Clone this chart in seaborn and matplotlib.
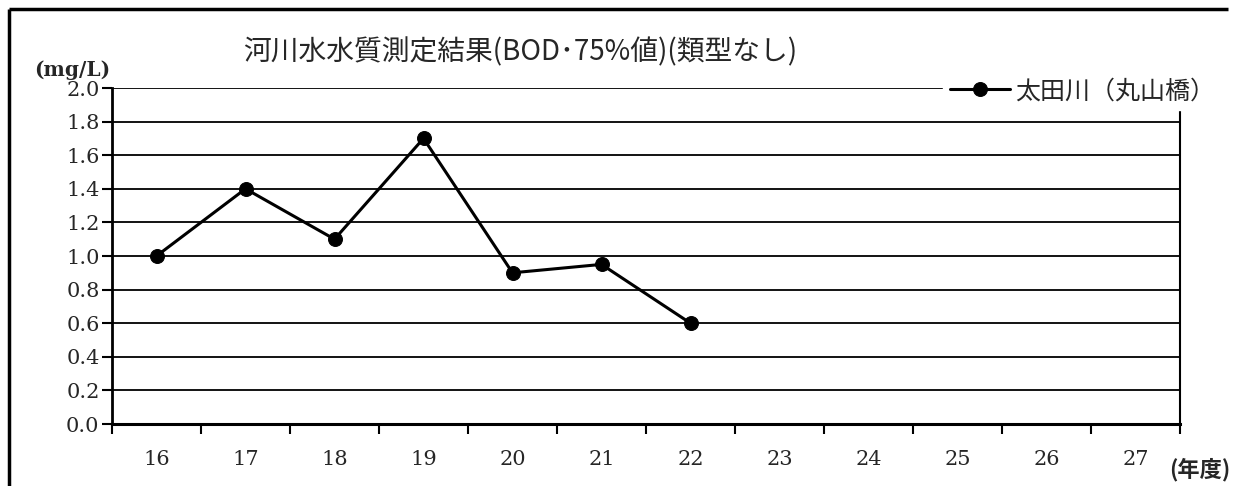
import seaborn as sns
import matplotlib.pyplot as plt
from matplotlib.lines import Line2D
import pandas as pd

sns.set_style("white")
plt.rcParams['font.family'] = ['Noto Sans CJK JP', 'DejaVu Sans']

years = ['16', '17', '18', '19', '20', '21', '22', '23', '24', '25', '26', '27']
bod = [1.0, 1.4, 1.1, 1.7, 0.9, 0.95, 0.6]
series_name = '太田川（丸山橋）'
yticks = [0.0, 0.2, 0.4, 0.6, 0.8, 1.0, 1.2, 1.4, 1.6, 1.8, 2.0]

df = pd.DataFrame({'year': years[:len(bod)], 'bod': bod})
pos = {y: i for i, y in enumerate(years)}
df['x'] = df['year'].map(pos)

fig = plt.figure(figsize=(12.38, 4.86), dpi=100)
ax = fig.add_axes([112/1238, 1 - 424/486, 1068/1238, 336/486])

for v in yticks[1:]:
    ax.axhline(v, color='black', lw=1.3, zorder=1)

sns.lineplot(data=df, x='x', y='bod', ax=ax, color='black', lw=2.2,
             marker='o', markersize=10, markeredgecolor='black',
             label=series_name, zorder=3)

ax.set_xlim(-0.5, len(years) - 0.5)
ax.set_ylim(0, 2.0)
ax.set_xlabel('')
ax.set_ylabel('')

# category labels at centers, ticks at boundaries
ax.set_xticks([i - 0.5 for i in range(len(years) + 1)])
ax.set_xticklabels([])
ax.set_xticks(range(len(years)), minor=True)
ax.set_xticklabels(years, minor=True, family='DejaVu Serif', fontsize=15)
ax.tick_params(axis='x', which='major', direction='out', length=7, width=1.5, color='black')
ax.tick_params(axis='x', which='minor', length=0, pad=19)
ax.set_yticks(yticks)
ax.set_yticklabels([f'{v:.1f}' for v in yticks], family='DejaVu Serif', fontsize=15)
ax.tick_params(axis='y', direction='out', length=7, width=1.5, color='black', pad=2)
ax.tick_params(left=True, bottom=True)

for s in ['left', 'bottom', 'right']:
    ax.spines[s].set_color('black')
ax.spines['left'].set_linewidth(2)
ax.spines['bottom'].set_linewidth(2.2)
ax.spines['right'].set_linewidth(1.5)
ax.spines['top'].set_visible(False)

leg = ax.legend(loc='upper right', bbox_to_anchor=(1.05, 1.085), frameon=True,
                fontsize=18, handlelength=2.4, handletextpad=0.2, borderpad=0.25)
leg.get_frame().set_edgecolor('white')
leg.get_frame().set_facecolor('white')
leg.get_frame().set_alpha(1)
leg.set_zorder(10)

fig.text(520/1238, 1 - 52/486, '河川水水質測定結果(BOD･75%値)(類型なし)',
         ha='center', va='center', fontsize=20)
fig.text(72/1238, 1 - 70/486, '(mg/L)', ha='center', va='center',
         family='DejaVu Serif', fontweight='bold', fontsize=14.5)
fig.text(1200/1238, 1 - 470/486, '(年度)', ha='center', va='center',
         fontweight='bold', fontsize=16)

# outer frame: only left and top edges are inside the image
fig.add_artist(Line2D([9/1238, 9/1238], [0, 1 - 9/486], transform=fig.transFigure,
                      color='black', lw=2.5, solid_capstyle='butt'))
fig.add_artist(Line2D([9/1238, 1228/1238], [1 - 9/486, 1 - 9/486], transform=fig.transFigure,
                      color='black', lw=2.5, solid_capstyle='butt'))

fig.savefig('out.png', dpi=100)
